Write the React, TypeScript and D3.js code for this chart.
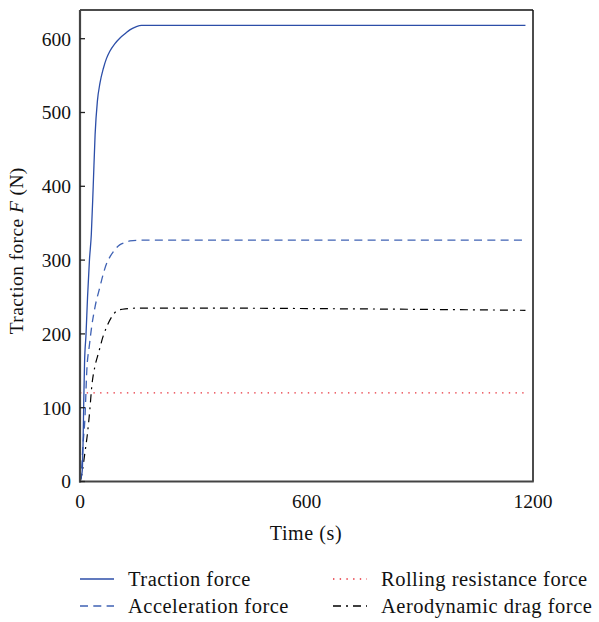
import React from "react";
import * as d3 from "d3";

const tractionT = [0, 3, 6, 8, 10, 12, 16, 20, 25, 30, 35, 40, 46, 53, 62, 70, 79, 92, 106, 120, 132, 148, 163, 1180];
const tractionF = [0, 5, 15, 50, 110, 160, 200, 250, 300, 335, 400, 470, 515, 540, 560, 573, 583, 593, 601, 607, 612, 616, 618, 618];

const accelT = [0, 4, 8, 13, 18, 25, 31, 40, 53, 62, 71, 80, 88, 97, 106, 120, 132, 160, 1180];
const accelF = [0, 15, 50, 85, 150, 185, 210, 237, 264, 282, 296, 305, 311, 317, 321, 324, 326, 327, 327];

const aeroT = [0, 4.5, 13, 20, 26, 31, 40, 49, 62, 71, 84, 97, 120, 160, 300, 700, 1180];
const aeroF = [0, 9, 39, 66, 97, 128, 157, 174, 198, 210, 223, 231, 234, 235, 235, 234, 232];

const rollT = [0, 1180];
const rollF = [120, 120];

const xTicks = [0, 600, 1200];
const yTicks = [0, 100, 200, 300, 400, 500, 600];

const W = 599, H = 622;
const L = 80, R = 533, T = 10, B = 481.5;

export default function App() {
  const x = d3.scaleLinear().domain([0, 1200]).range([L, R]);
  const y = d3.scaleLinear().domain([0, 600]).range([B, 38.7]);
  const line = d3.line<[number, number]>().x(d => x(d[0])).y(d => y(d[1])).curve(d3.curveMonotoneX);
  const mk = (ts: number[], fs: number[]) => line(ts.map((t, i) => [t, fs[i]] as [number, number])) || "";
  const font = "'Liberation Serif', 'Times New Roman', serif";
  const series = [
    { d: mk(rollT, rollF), stroke: "#e8303a", dash: "1.4,5.3", w: 1.2 },
    { d: mk(aeroT, aeroF), stroke: "#000", dash: "8,5,2,5", w: 1.2 },
    { d: mk(accelT, accelF), stroke: "#3f62b4", dash: "8,5.3", w: 1.3 },
    { d: mk(tractionT, tractionF), stroke: "#2c4ea8", dash: "", w: 1.3 },
  ];
  const legend = [
    { label: "Traction force", x0: 80, y0: 579, stroke: "#2c4ea8", dash: "" },
    { label: "Acceleration force", x0: 80, y0: 606, stroke: "#3f62b4", dash: "8,5.3" },
    { label: "Rolling resistance force", x0: 333, y0: 579, stroke: "#e8303a", dash: "1.4,5.3" },
    { label: "Aerodynamic drag force", x0: 333, y0: 606, stroke: "#000", dash: "8,5,2,5" },
  ];
  return (
    <svg width={W} height={H} style={{ position: "absolute", left: 0, top: 0, background: "#fff" }} fontFamily={font}>
      <rect x={0} y={0} width={W} height={H} fill="#fff" />
      {series.map((s, i) => (
        <path key={i} d={s.d} fill="none" stroke={s.stroke} strokeWidth={s.w} strokeDasharray={s.dash || undefined} />
      ))}
      <line x1={L} y1={T} x2={R} y2={T} stroke="#111" strokeWidth={1.5} />
      <line x1={R} y1={T} x2={R} y2={B} stroke="#111" strokeWidth={1.5} />
      <line x1={L} y1={T} x2={L} y2={B + 1} stroke="#444" strokeWidth={2.2} />
      <line x1={L - 1} y1={B} x2={R + 0.75} y2={B} stroke="#444" strokeWidth={2.2} />
      {yTicks.map(t => (
        <g key={t}>
          <line x1={L} x2={L + 5} y1={y(t)} y2={y(t)} stroke="#222" strokeWidth={1.3} />
          <text x={71} y={y(t)} dy="0.35em" textAnchor="end" fontSize={19.5} fill="#111">{t}</text>
        </g>
      ))}
      {xTicks.map(t => (
        <text key={t} x={x(t)} y={508} textAnchor="middle" fontSize={19.5} fill="#111">{t}</text>
      ))}
      <text x={306} y={540} textAnchor="middle" fontSize={20} letterSpacing={0.6} fill="#111">Time (s)</text>
      <text transform={`translate(23,${(T + B) / 2 + 5}) rotate(-90)`} textAnchor="middle" fontSize={19.5} letterSpacing={0.4} fill="#111">
        Traction force <tspan fontStyle="italic">F</tspan> (N)
      </text>
      {legend.map((l, i) => (
        <g key={i}>
          <line x1={l.x0} x2={l.x0 + 34} y1={l.y0} y2={l.y0} stroke={l.stroke} strokeWidth={1.3} strokeDasharray={l.dash || undefined} />
          <text x={l.x0 + 48} y={l.y0} dy="0.35em" fontSize={20.5} letterSpacing={0.5} fill="#111">{l.label}</text>
        </g>
      ))}
    </svg>
  );
}
